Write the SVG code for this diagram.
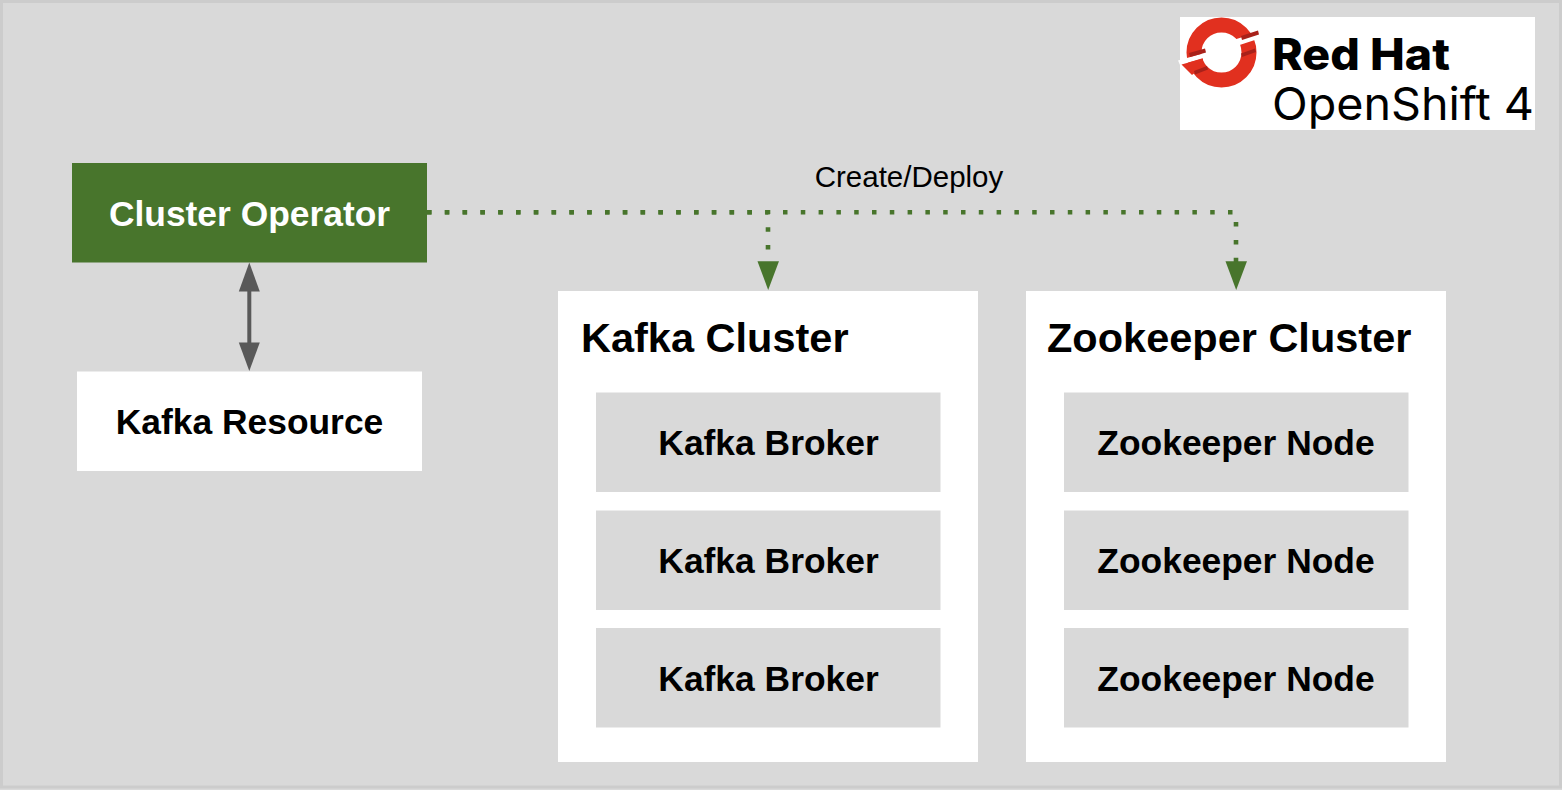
<svg xmlns="http://www.w3.org/2000/svg" width="1562" height="790" viewBox="0 0 1562 790">
<style>
text{font-family:"Liberation Sans",Arial,sans-serif;font-weight:700;text-anchor:middle;fill:#000}
.n{font-size:35.4px}
.t{font-size:41.5px;text-anchor:start}
.w{fill:#fff}
.i{fill:#d9d9d9}
.dot{fill:none;stroke:#48752c;stroke-width:4.600;stroke-dasharray:4.500 13.300}
.g{fill:#48752c}
.k{fill:#595959}
.r{fill:#e1301f}
.d{fill:#a8211a}
</style>
<rect width="1562" height="790" fill="#d9d9d9"/>
<rect x="1.500" y="1.500" width="1559" height="785.500" fill="#d9d9d9" stroke="#cccccc" stroke-width="3"/>
<g id="logo">
<rect x="1180" y="17" width="355" height="113" fill="#fff"/>
<circle cx="1221.500" cy="52.500" r="27.500" fill="none" stroke="#e1301f" stroke-width="15"/>
<path fill="#fff" d="M1230 41L1262 31L1264 37L1232 47.500Z"/>
<path fill="#fff" d="M1178 60.500L1210 51.500L1212 55.500L1180 65Z"/>
<path class="r" d="M1181.500 64.500L1203 58.500L1203 66L1192 75Z"/>
<path class="d" d="M1241 36L1258 30.500L1259 34.500L1242 40Z"/>
<path class="d" d="M1189 53L1205 48.500L1206 52.500L1190 57Z"/>
<path class="d" d="M1194 71L1207 66L1208 69.500L1195 74.500Z"/>
<path class="d" d="M1241 53.500L1255 48.500L1256 52L1242 57Z"/>
<text x="1272" y="70" font-size="44" textLength="178" lengthAdjust="spacingAndGlyphs" style="text-anchor:start;font-family:Inter,sans-serif;font-weight:800">Red Hat</text>
<text x="1272" y="120" font-size="45" textLength="262" lengthAdjust="spacingAndGlyphs" style="text-anchor:start;font-family:Inter,sans-serif;font-weight:400">OpenShift 4</text>
</g>
<g id="cluster-operator"><rect class="g" x="72" y="163" width="355" height="99.500"/><text class="n w" x="249.500" y="226">Cluster Operator</text></g>
<g id="kafka-resource"><rect class="w" x="77" y="371.500" width="345" height="99.500"/><text class="n" x="249.500" y="434">Kafka Resource</text></g>
<g id="kafka-cluster"><rect class="w" x="558" y="291" width="420" height="471"/><text class="t" x="581" y="352">Kafka Cluster</text></g>
<g id="zookeeper-cluster"><rect class="w" x="1026" y="291" width="420" height="471"/><text class="t" x="1047" y="352">Zookeeper Cluster</text></g>
<g id="kafka-broker-1"><rect class="i" x="596" y="392.500" width="344.500" height="99.500"/><text class="n" x="768.500" y="455">Kafka Broker</text></g>
<g id="kafka-broker-2"><rect class="i" x="596" y="510.500" width="344.500" height="99.500"/><text class="n" x="768.500" y="573">Kafka Broker</text></g>
<g id="kafka-broker-3"><rect class="i" x="596" y="628" width="344.500" height="99.500"/><text class="n" x="768.500" y="691">Kafka Broker</text></g>
<g id="zookeeper-node-1"><rect class="i" x="1064" y="392.500" width="344.500" height="99.500"/><text class="n" x="1236" y="455">Zookeeper Node</text></g>
<g id="zookeeper-node-2"><rect class="i" x="1064" y="510.500" width="344.500" height="99.500"/><text class="n" x="1236" y="573">Zookeeper Node</text></g>
<g id="zookeeper-node-3"><rect class="i" x="1064" y="628" width="344.500" height="99.500"/><text class="n" x="1236" y="691">Zookeeper Node</text></g>
<g id="connectors">
<path class="dot" d="M427 212.300H768V262"/>
<path class="dot" d="M427 212.300H1236V262"/>
<path class="g" d="M757.500 261.300H779L768.200 290Z"/>
<path class="g" d="M1225.500 261.300H1247L1236.200 290Z"/>
<path d="M249.300 290V343" stroke="#595959" stroke-width="4" fill="none"/>
<path class="k" d="M249.300 262.500L259.800 291.500H238.800Z"/>
<path class="k" d="M249.300 371L259.800 342.500H238.800Z"/>
<text x="909" y="187" font-size="29.500" style="font-weight:400">Create/Deploy</text>
</g>
</svg>
